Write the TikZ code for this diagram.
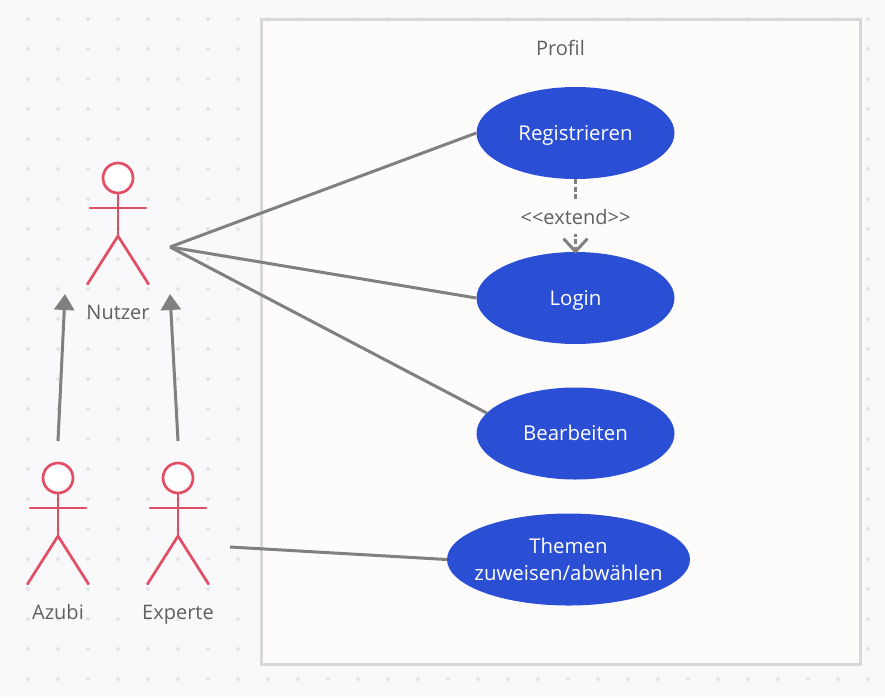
\documentclass[tikz,border=0pt]{standalone}
\usepackage{fontspec}
\setmainfont{Open Sans}
\usetikzlibrary{arrows.meta, shapes.geometric}
\tikzset{>=latex}
\definecolor{mybg}{RGB}{249, 249, 252}
\definecolor{mydot}{RGB}{229, 229, 232}
\definecolor{myframe}{RGB}{216, 216, 218}
\definecolor{mypaper}{RGB}{253, 252, 251}
\definecolor{myblue}{RGB}{42, 78, 212}
\definecolor{myred}{RGB}{226, 78, 100}
\definecolor{myline}{RGB}{128, 128, 126}
\definecolor{mytext}{RGB}{96, 96, 96}
\tikzset{
  usecase/.style = {ellipse, fill = myblue, text = white, minimum width = 198pt, minimum height = 92pt, inner sep = 0pt, font = \fontsize{20.4}{27}\selectfont},
  plainlabel/.style = {text = mytext, text height = 14pt, text depth = 0pt, font = \fontsize{20}{24}\selectfont},
  actorline/.style = {myred, line width = 2.7pt, line cap = round},
  assoc/.style = {myline, line width = 3pt},
  inherit/.style = {myline, line width = 3pt, -{Triangle[length = 16pt, width = 20pt]}}
}
% stick figure: name, x of the head, y of the head, label
\newcommand{\actor}[4]{
  \draw[actorline, fill = white] (#2, #3) circle (15);
  \draw[actorline] (#2, #3 + 15) -- (#2, #3 + 58);
  \draw[actorline] (#2 - 28, #3 + 30) -- (#2 + 28, #3 + 30);
  \draw[actorline] (#2 - 30.5, #3 + 106) -- (#2, #3 + 58) -- (#2 + 30.5, #3 + 106);
  \node[plainlabel] (#1) at (#2, #3 + 134.5) {#4};
}
\begin{document}
\begin{tikzpicture}[x = 1pt, y = -1pt]
\useasboundingbox (0, 0) rectangle (885, 697);
\fill[mybg] (0, 0) rectangle (885, 697);
% dotted canvas
\foreach \i in {0,...,30} {
  \foreach \j in {0,...,22} {
    \fill[mydot] (-2 + 30 * \i, 19 + 30 * \j) circle (2);
  }
}
\draw[myframe, fill = mypaper, line width = 3pt] (261, 19) rectangle (860, 664);
\node[plainlabel] (profil) at (560.5, 48) {Profil};

\node[usecase, text height = 14pt, text depth = 0pt] (reg) at (575.5, 133) {Registrieren};
\node[usecase, text height = 14pt, text depth = 0pt] (login) at (575.5, 298) {Login};
\node[usecase, text height = 14pt, text depth = 0pt] (edit) at (575.5, 433.5) {Bearbeiten};
\node[usecase, minimum width = 243pt, inner xsep = -11pt, align = center] (topics) at (568.5, 559.5) {Themen\\zuweisen/abwählen};

\actor{nutzer}{118}{178}{Nutzer}
\actor{azubi}{58}{478}{Azubi}
\actor{experte}{178}{478}{Experte}

\coordinate (hub) at (170, 247);
\coordinate (expend) at (230, 547);
\coordinate (azubistart) at (58, 441);
\coordinate (azubiend) at (65, 294);
\coordinate (expstart) at (178, 441);
\coordinate (expstop) at (170, 294);

\draw[assoc] (hub) -- (reg.west);
\draw[assoc] (hub) -- (login.west);
\draw[assoc] (hub) -- (edit.167);
\draw[assoc] (expend) -- (topics.west);

\draw[inherit] (azubistart) -- (azubiend);
\draw[inherit] (expstart) -- (expstop);

\draw[myline, line width = 3pt, dash pattern = on 5pt off 2.5pt, shorten > = -2pt, -{Straight Barb[length = 13pt, width = 24pt, line width = 3pt]}] (reg) -- (login)
  node[midway, yshift = -1.5pt, fill = mypaper, plainlabel, inner xsep = 2pt, inner ysep = 10pt] (ext) {<{}<extend>{}>};
\end{tikzpicture}
\end{document}
